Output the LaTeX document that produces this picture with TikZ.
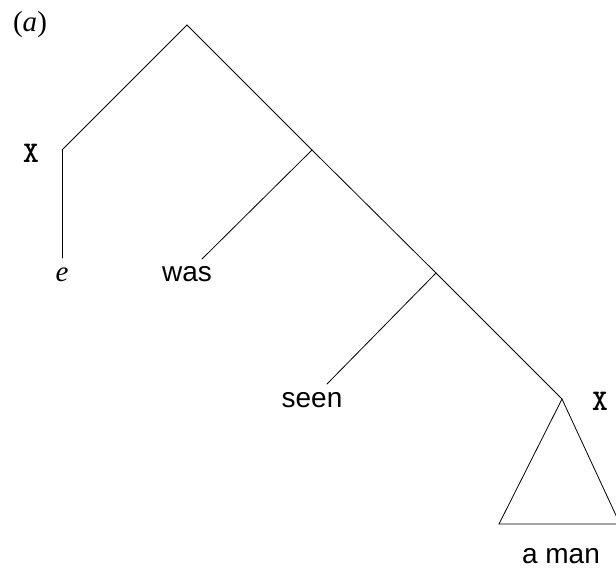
\documentclass[tikz,border=0pt]{standalone}
\usepackage{fontspec}
\setmainfont{Liberation Serif}
\newfontfamily\labelsans{Liberation Sans}
\newfontfamily\catfont{lmmonolt10-bold}[Extension=.otf]
\begin{document}
\begin{tikzpicture}[x=1pt,y=-1pt,
    branch/.style={line width=0.8pt,line cap=round,line join=miter},
    word/.style={inner sep=0pt,font=\labelsans\fontsize{28}{30}\selectfont},
    cat/.style={inner sep=0pt,font=\catfont\fontsize{30}{32}\selectfont},
    trace/.style={inner sep=0pt,font=\itshape\fontsize{29}{31}\selectfont},
    tag/.style={inner sep=0pt,font=\fontsize{29}{31}\selectfont}]
  \useasboundingbox (0,0) rectangle (616,574);
  \clip (0,0) rectangle (616,574);

  % branching points of the tree
  \coordinate (root) at (187,25);
  \coordinate (xl)   at (62,150);
  \coordinate (n2)   at (312,150);
  \coordinate (n3)   at (436,273);
  \coordinate (xr)   at (562,399);
  \coordinate (tl)   at (499,524);
  \coordinate (tr)   at (620,524);

  % lower ends of the leaf branches
  \coordinate (eend)    at (62,258);
  \coordinate (wasend)  at (202,259);
  \coordinate (seenend) at (327,384);

  % labels
  \node[tag]   (lab)  at (30,25)   {(\textit{a})};
  \node[cat]   (xlab) at (31,153)  {X};
  \node[cat]   (xrab) at (600,401) {X};
  \node[trace] (e)    at (62,275)  {e};
  \node[word]  (was)  at (187,274) {was};
  \node[word]  (seen) at (312,400) {seen};
  \node[word]  (man)  at (561,556) {a man};

  % branches
  \draw[branch] (xl) -- (root) -- (n2) -- (n3) -- (xr);
  \draw[branch] (xl) -- (eend);
  \draw[branch] (n2) -- (wasend);
  \draw[branch] (n3) -- (seenend);
  \draw[branch] (xr) -- (tl) -- (tr) -- cycle;
\end{tikzpicture}
\end{document}
